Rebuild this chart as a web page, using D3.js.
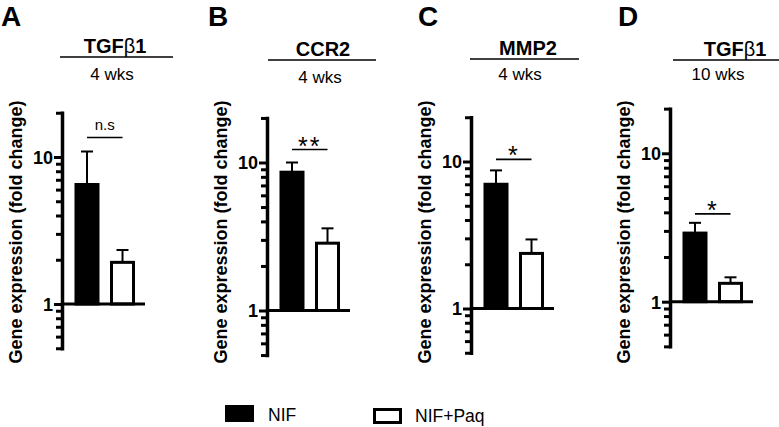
<!DOCTYPE html>
<html>
<head>
<meta charset="utf-8">
<script src="https://cdn.jsdelivr.net/npm/d3@7"></script>
<style>
  html, body { margin: 0; padding: 0; background: #fff; }
  svg { display: block; }
  text { font-family: "Liberation Sans", Arial, Helvetica, sans-serif; fill: #000; }
</style>
</head>
<body>
<svg id="chart" width="779" height="427"></svg>
<script>
// ---------------- DATA ----------------
const panelLetters = ["A", "B", "C", "D"];
const geneNames = ["TGF|β|1", "CCR2", "MMP2", "TGF|β|1"];
const timepoints = ["4 wks", "4 wks", "4 wks", "10 wks"];
const groups = ["NIF", "NIF+Paq"];
const nifMean = [6.5, 8.6, 7.0, 2.9];
const nifUpper = [10.9, 10.0, 8.7, 3.4];
const paqMean = [1.92, 2.85, 2.37, 1.33];
const paqUpper = [2.33, 3.59, 2.95, 1.46];
const significance = ["n.s", "**", "*", "*"];
const majorTicks = [1, 10];
const minorTicks = [0.5, 0.6, 0.7, 0.8, 0.9, 2, 3, 4, 5, 6, 7, 8, 9, 20];
const yDomain = [0.5, 20];
const yLabel = "Gene expression (fold change)";

// ---------------- LAYOUT ----------------
const layout = [
  { axisX: 62,  y1: 304,   y10: 157,   sigGap: 14, titleX: 115, titleY: 53, ruleX: [60, 173],  subX: 112, subY: 80, letterX: 1 },
  { axisX: 267, y1: 310.5, y10: 162.5, sigGap: 13, titleX: 323, titleY: 56, ruleX: [268, 376], subX: 320, subY: 83, letterX: 208 },
  { axisX: 471, y1: 308.5, y10: 161.5, sigGap: 11, titleX: 528, titleY: 55, ruleX: [470, 579], subX: 520, subY: 80, letterX: 418 },
  { axisX: 670, y1: 301.7, y10: 153.3, sigGap: 9,  titleX: 735, titleY: 56, ruleX: [673, 779], subX: 718, subY: 80, letterX: 618 }
];

const svg = d3.select("#chart");
svg.append("rect").attr("width", 779).attr("height", 427).attr("fill", "#fff");

panelLetters.forEach((letter, i) => {
  const L = layout[i];
  const dec = L.y1 - L.y10;
  const y = d3.scaleLog().domain(yDomain)
    .range([L.y1 + dec * Math.log10(1 / yDomain[0]), L.y1 - dec * Math.log10(yDomain[1])]);
  const x = d3.scaleBand().domain(groups)
    .range([L.axisX, L.axisX + 85.5]).paddingInner(0.38).paddingOuter(0.394);
  const g = svg.append("g");

  // panel letter
  g.append("text").attr("x", L.letterX).attr("y", 26)
    .attr("font-size", 28).attr("font-weight", "bold").text(letter);

  // title (gene)
  const t = g.append("text").attr("x", L.titleX).attr("y", L.titleY)
    .attr("text-anchor", "middle").attr("font-size", 20).attr("font-weight", "bold");
  geneNames[i].split("|").forEach(part => {
    t.append("tspan").attr("font-weight", part === "β" ? "normal" : "bold").text(part);
  });
  g.append("line").attr("x1", L.ruleX[0]).attr("x2", L.ruleX[1])
    .attr("y1", L.titleY + 4).attr("y2", L.titleY + 4)
    .attr("stroke", "#000").attr("stroke-width", 1.6);
  g.append("text").attr("x", L.subX).attr("y", L.subY)
    .attr("text-anchor", "middle").attr("font-size", 17).text(timepoints[i]);

  // y label
  g.append("text")
    .attr("transform", `translate(${L.axisX - 46},232) rotate(-90)`)
    .attr("text-anchor", "middle").attr("dominant-baseline", "central")
    .attr("font-size", 18).attr("font-weight", "bold").text(yLabel);

  // minor ticks
  const minorAxis = d3.axisLeft(y).tickValues(minorTicks).tickSize(6).tickFormat("").tickSizeOuter(0);
  const ma = g.append("g").attr("transform", `translate(${L.axisX},0)`).call(minorAxis);
  ma.select(".domain").remove();
  ma.selectAll(".tick line").attr("stroke", "#000").attr("stroke-width", 3);

  // major axis
  const majorAxis = d3.axisLeft(y).tickValues(majorTicks).tickSize(8).tickPadding(1)
    .tickFormat(d3.format("d")).tickSizeOuter(0);
  const mj = g.append("g").attr("transform", `translate(${L.axisX},0)`).call(majorAxis);
  mj.attr("font-size", null).attr("font-family", null);
  mj.select(".domain").attr("stroke", "#000").attr("stroke-width", 3.5).attr("stroke-linecap", "square");
  mj.selectAll(".tick line").attr("stroke", "#000").attr("stroke-width", 3);
  mj.selectAll(".tick text").style("font-size", "18px").style("font-weight", "bold")
    .attr("fill", "#000").attr("dy", "0.36em");

  // bars
  const means = [nifMean[i], paqMean[i]];
  const uppers = [nifUpper[i], paqUpper[i]];
  groups.forEach((grp, j) => {
    const cx = x(grp) + x.bandwidth() / 2;
    // error bar
    g.append("line").attr("x1", cx).attr("x2", cx)
      .attr("y1", y(means[j])).attr("y2", y(uppers[j]))
      .attr("stroke", "#000").attr("stroke-width", 2);
    g.append("line").attr("x1", cx - 6).attr("x2", cx + 6)
      .attr("y1", y(uppers[j])).attr("y2", y(uppers[j]))
      .attr("stroke", "#000").attr("stroke-width", 2);
    g.append("rect").attr("x", x(grp)).attr("width", x.bandwidth())
      .attr("y", y(means[j])).attr("height", y(1) - y(means[j]))
      .attr("fill", j === 0 ? "#000" : "#fff").attr("stroke", "#000").attr("stroke-width", 3);
  });

  // baseline at 1
  g.append("line").attr("x1", L.axisX).attr("x2", L.axisX + 83)
    .attr("y1", y(1)).attr("y2", y(1)).attr("stroke", "#000").attr("stroke-width", 3);

  // significance
  const sy = y(nifUpper[i]) - L.sigGap;
  const x0 = x(groups[0]) + x.bandwidth() / 2, x1 = x(groups[1]) + x.bandwidth() / 2;
  g.append("line").attr("x1", x0).attr("x2", x1).attr("y1", sy).attr("y2", sy)
    .attr("stroke", "#000").attr("stroke-width", 1.6);
  const isStar = significance[i] !== "n.s";
  g.append("text").attr("x", (x0 + x1) / 2).attr("y", isStar ? sy + 5 : sy - 7)
    .attr("text-anchor", "middle").attr("font-size", isStar ? 25 : 15)
    .attr("letter-spacing", isStar ? 2 : 0)
    .text(significance[i]);
});

// legend
const legend = svg.append("g");
legend.append("rect").attr("x", 226).attr("y", 406).attr("width", 27).attr("height", 15)
  .attr("fill", "#000").attr("stroke", "#000").attr("stroke-width", 2);
legend.append("text").attr("x", 268).attr("y", 421).attr("font-size", 17.5).text(groups[0]);
legend.append("rect").attr("x", 374.5).attr("y", 409.5).attr("width", 26).attr("height", 13)
  .attr("fill", "#fff").attr("stroke", "#000").attr("stroke-width", 3);
legend.append("text").attr("x", 415).attr("y", 422).attr("font-size", 17.5).text(groups[1]);
</script>
</body>
</html>
